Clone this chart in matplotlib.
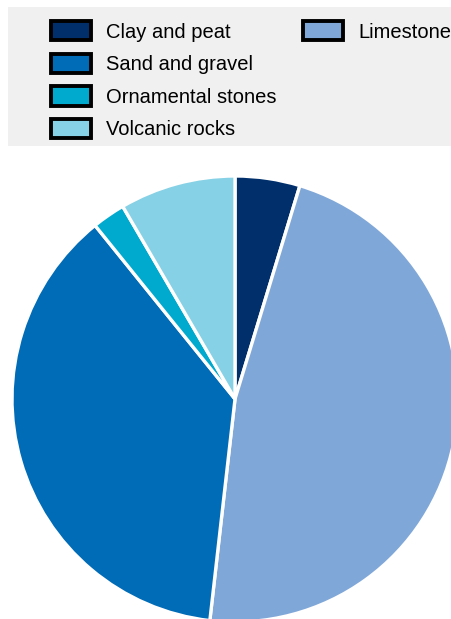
import matplotlib.pyplot as plt
from matplotlib.patches import Patch, Rectangle

plt.rcParams['font.family'] = ['Liberation Sans', 'DejaVu Sans']

# share of extraction by material (%)
materials = ['Clay and peat', 'Limestone', 'Sand and gravel', 'Ornamental stones', 'Volcanic rocks']
shares = [4.7, 47.1, 37.4, 2.4, 8.4]
colors = ['#002f6c', '#7fa7d8', '#006bb6', '#00a9ce', '#86d1e5']

W, H = 452, 619
fig = plt.figure(figsize=(W / 100, H / 100), dpi=100)
ax = fig.add_axes([0, 0, 1, 1])
ax.set_xlim(0, W)
ax.set_ylim(0, H)
ax.axis('off')

ax.pie(shares, colors=colors, startangle=90, counterclock=False,
       center=(235, H - 399), radius=223,
       wedgeprops=dict(edgecolor='white', linewidth=2.4))
ax.set_xlim(0, W)
ax.set_ylim(0, H)

# grey band behind the legend
fig.patches.append(Rectangle((8 / W, 1 - 146 / H), 1, 139 / H,
                             transform=fig.transFigure, facecolor='#f0f0f0',
                             edgecolor='none', zorder=0))

# first column holds four entries, the second only limestone
order = [0, 2, 3, 4, 1]
handles = [Patch(facecolor=colors[i], edgecolor='black', linewidth=2.8) for i in order]
labels = [materials[i] for i in order]
blank = Patch(facecolor='none', edgecolor='none')
handles += [blank] * 3
labels += [''] * 3

fig.legend(handles, labels, ncol=2, loc='upper left',
           bbox_to_anchor=(51 / W, 1 - 21 / H), frameon=False,
           fontsize=14.5, handlelength=2.0, handleheight=1.1,
           handletextpad=0.75, labelspacing=0.6, columnspacing=1.3,
           borderpad=0, borderaxespad=0)

fig.savefig('out.png', dpi=100)
